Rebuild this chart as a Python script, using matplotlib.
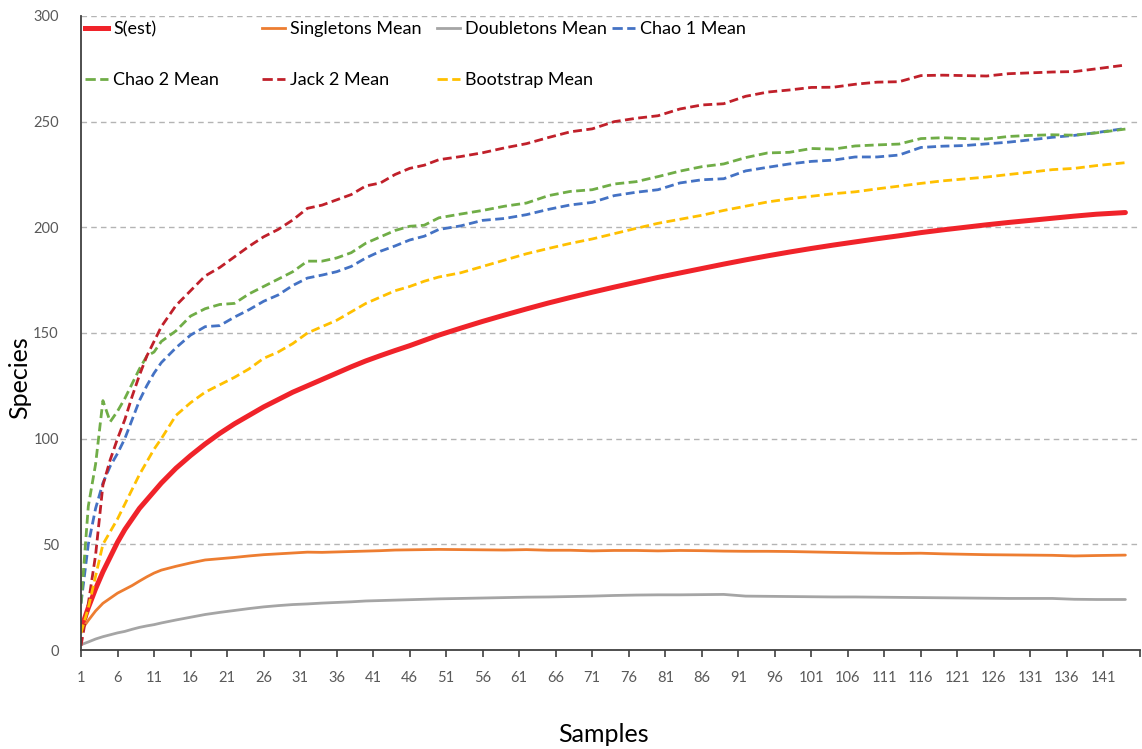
import matplotlib
matplotlib.use("Agg")
import matplotlib.pyplot as plt
from matplotlib.lines import Line2D
from matplotlib.legend import Legend

plt.rcParams["font.family"] = ["Lato", "DejaVu Sans"]

# Sample numbers at which the curves are recorded
samples = [1, 2, 3, 4, 5, 6, 7, 8, 9, 10, 11, 12,
           14, 16, 18, 20, 22, 24, 26, 28, 30, 32, 34, 36, 38, 40, 42, 44, 46, 48, 50,
           53, 56, 59, 62, 65, 68, 71, 74, 77, 80, 83, 86, 89, 92, 95, 98, 101, 104,
           107, 110, 113, 116, 119, 122, 125, 128, 131, 134, 137, 140, 144]

s_est = [10, 20, 29, 37, 44, 51, 57, 62, 67, 71, 75, 79,
         86, 92, 97.5, 102.5, 107, 111, 115, 118.5, 122, 125, 128, 131, 134, 136.8,
         139.3, 141.7, 144, 146.5, 149,
         152.3, 155.5, 158.5, 161.4, 164.2, 166.8, 169.3, 171.7, 174, 176.3, 178.4,
         180.5, 182.6, 184.6, 186.5, 188.3, 190, 191.6, 193.1, 194.6, 196, 197.5,
         198.8, 200, 201.2, 202.3, 203.3, 204.3, 205.3, 206.2, 207]

singletons = [9.2, 14, 18.5, 22.1, 24.5, 26.9, 28.7, 30.5, 32.6, 34.6, 36.4, 37.8,
              39.6, 41.2, 42.6, 43.2, 43.8, 44.5, 45.1, 45.5, 45.9, 46.3, 46.2, 46.4,
              46.6, 46.8, 47, 47.3, 47.4, 47.5, 47.6,
              47.5, 47.4, 47.3, 47.5, 47.2, 47.2, 46.9, 47.1, 47.1, 46.9, 47.1, 47,
              46.8, 46.7, 46.7, 46.6, 46.4, 46.2, 46, 45.8, 45.7, 45.8, 45.5, 45.3,
              45.1, 45, 44.9, 44.8, 44.5, 44.7, 44.9]

doubletons = [2.5, 3.8, 5.2, 6.3, 7.2, 8.1, 8.8, 9.8, 10.7, 11.4, 12, 12.8,
              14.2, 15.5, 16.8, 17.8, 18.7, 19.6, 20.4, 21, 21.5, 21.8, 22.2, 22.5,
              22.8, 23.2, 23.4, 23.6, 23.8, 24, 24.2,
              24.4, 24.6, 24.8, 25, 25.1, 25.3, 25.5, 25.8, 26, 26.1, 26.1, 26.2,
              26.3, 25.5, 25.4, 25.3, 25.2, 25.1, 25.1, 25, 24.9, 24.8, 24.7, 24.6,
              24.5, 24.4, 24.4, 24.4, 24, 23.9, 23.9]

chao1 = [22, 50, 67, 79, 87, 93, 100, 109, 118, 125, 131, 136,
         143, 149, 153, 153.5, 157.5, 161, 165, 168, 172.5, 176, 177.4, 179, 181.5,
         185.5, 188.7, 191.2, 194, 195.8, 199,
         200.7, 203.3, 204.2, 206, 208.5, 210.6, 211.8, 215, 216.6, 217.8, 221,
         222.5, 223, 226.7, 228.4, 230, 231.2, 231.8, 233.3, 233.3, 234.2, 237.8,
         238.4, 238.7, 239.5, 240.3, 241.4, 242.6, 243.5, 244.8, 246.8]

chao2 = [22, 68, 88, 118, 108, 113, 119, 126, 133, 139, 141, 146,
         151, 158, 161.5, 163.5, 164, 168.5, 172, 175.5, 179, 184, 184, 185.5, 188,
         192.5, 195.5, 198.5, 200.5, 201, 204.5,
         206.3, 208, 210, 211.5, 215, 217, 217.8, 220.5, 221.6, 224, 226.6, 228.7,
         230, 233, 235.2, 235.5, 237.3, 237, 238.5, 239, 239.4, 242, 242.4, 242,
         241.8, 243, 243.5, 243.8, 243.6, 244.7, 246.5]

jack2 = [2, 22, 45, 78, 90, 100, 109, 120, 130, 139, 146, 153,
         163, 170, 177, 181, 186, 191, 195.5, 199, 203.5, 209, 210.5, 213, 215.5,
         219.6, 221, 225, 227.9, 229.4, 232,
         233.5, 235.3, 237.6, 239.6, 242.5, 245.2, 246.6, 250, 251.6, 252.8, 256,
         257.9, 258.5, 262, 264, 265, 266.2, 266.3, 267.7, 268.7, 268.9, 271.8,
         272, 271.8, 271.6, 272.7, 273.1, 273.5, 273.7, 275, 276.8]

bootstrap = [8, 20, 35, 50, 56, 62, 69, 76, 83, 89, 95, 100,
             111, 117, 122, 125.5, 129, 133, 138, 141, 145, 150, 153, 156, 160, 164,
             167, 170, 172, 174.5, 176.5,
             178.5, 181.5, 184.5, 187.5, 190, 192.4, 194.5, 197, 199.5, 201.9, 203.8,
             205.7, 208, 210, 212, 213.5, 214.7, 215.9, 216.8, 218.2, 219.5, 220.8,
             222, 222.9, 223.8, 225, 226.1, 227.3, 227.9, 229.2, 230.6]

x_ticks = list(range(1, 147, 5))
x_tick_labels = [str(t) if t <= 141 else "" for t in x_ticks]
y_ticks = [0, 50, 100, 150, 200, 250, 300]

W, H = 1142, 749
fig = plt.figure(figsize=(W / 100, H / 100), dpi=100)
ax = fig.add_axes([81 / W, 1 - 650 / H, (1140 - 81) / W, (650 - 16) / H])

dash = (0, (3.2, 1.6))
series = [
    ("S(est)", s_est, "#F0232A", 3.6, "-"),
    ("Singletons Mean", singletons, "#ED7D31", 2.0, "-"),
    ("Doubletons Mean", doubletons, "#A5A5A5", 2.0, "-"),
    ("Chao 1 Mean", chao1, "#4472C4", 2.0, dash),
    ("Chao 2 Mean", chao2, "#70AD47", 2.0, dash),
    ("Jack 2 Mean", jack2, "#C0202A", 2.0, dash),
    ("Bootstrap Mean", bootstrap, "#FFC000", 2.0, dash),
]

lines = {}
for name, vals, color, lw, ls in series:
    (ln,) = ax.plot(samples, vals, color=color, lw=lw, linestyle=ls,
                    solid_capstyle="round", dash_capstyle="butt", label=name)
    lines[name] = ln

ax.set_xlim(1, 146)
ax.set_ylim(0, 300)
ax.set_xticks(x_ticks)
ax.set_xticklabels(x_tick_labels)
ax.set_yticks(y_ticks)

ax.grid(axis="y", color="#B4B4B4", linestyle=(0, (4, 3)), linewidth=1.0)
ax.set_axisbelow(True)
for side in ("top", "right"):
    ax.spines[side].set_visible(False)
for side in ("left", "bottom"):
    ax.spines[side].set_color("#404040")
    ax.spines[side].set_linewidth(1.3)

ax.tick_params(axis="x", length=5, width=1.2, color="#404040", direction="out",
               labelsize=10.5, labelcolor="#595959", pad=10)
ax.tick_params(axis="y", length=0, labelsize=10.5, labelcolor="#595959", pad=16)

# Legend: one entry per slot, two rows of four columns inside the plot area
col_x = [85, 262, 437, 612]
row_y = [29, 80]
slots = [
    ("S(est)", 0, 0), ("Singletons Mean", 1, 0), ("Doubletons Mean", 2, 0),
    ("Chao 1 Mean", 3, 0), ("Chao 2 Mean", 0, 1), ("Jack 2 Mean", 1, 1),
    ("Bootstrap Mean", 2, 1),
]
for name, c, r in slots:
    ln = lines[name]
    handle = Line2D([], [], color=ln.get_color(), lw=ln.get_linewidth(),
                    linestyle=ln.get_linestyle())
    leg = Legend(ax, [handle], [name], loc="center left",
                 bbox_to_anchor=((col_x[c] - 81) / (1140 - 81),
                                 1 - (row_y[r] - 16) / (650 - 16)),
                 frameon=False, fontsize=13, handlelength=1.25, handletextpad=0.3,
                 borderpad=0, borderaxespad=0)
    ax.add_artist(leg)

fig.text(20 / W, 1 - 378 / H, "Species", rotation=90, ha="center", va="center",
         fontsize=18, color="black")
fig.text(603 / W, 1 - 735 / H, "Samples", ha="center", va="center",
         fontsize=18, color="black")

fig.savefig("out.png", dpi=100, facecolor="white")
